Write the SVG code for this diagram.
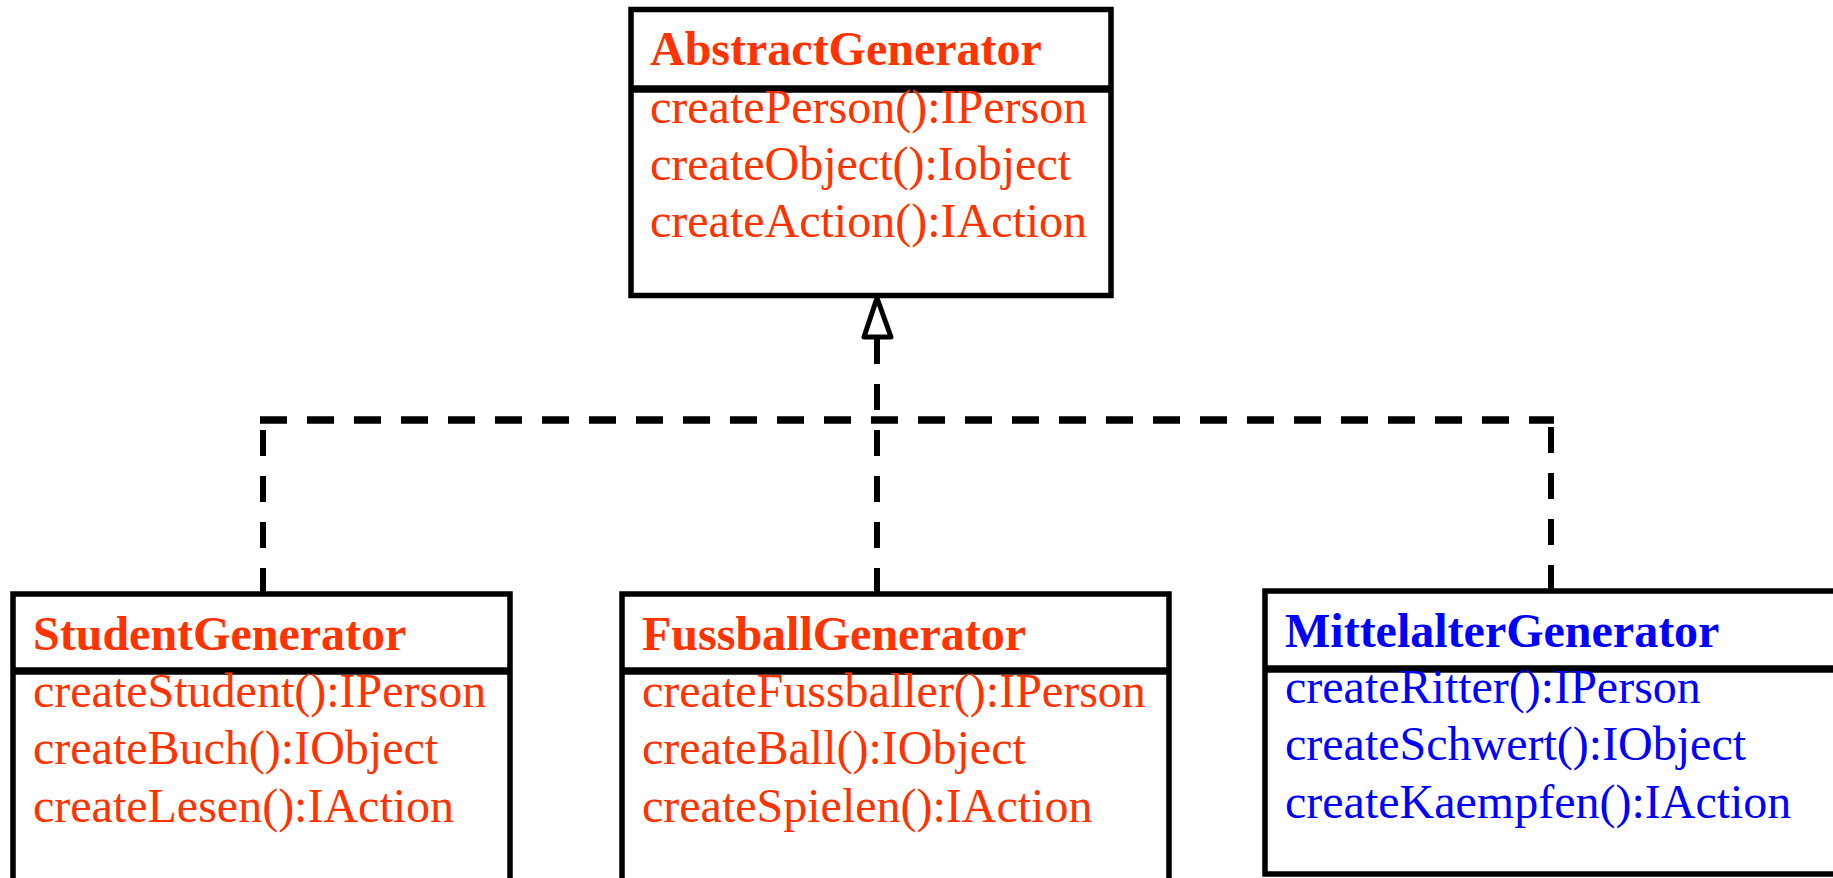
<svg xmlns="http://www.w3.org/2000/svg" width="1833" height="878" viewBox="0 0 1833 878">
<style>
.box{fill:#fff;stroke:#000;stroke-width:5.5}
.sep{stroke:#000;stroke-width:7.5}
.t{font-family:"Liberation Serif","Times New Roman",serif;font-size:48px}
.h{font-weight:bold}
.red{fill:#FF3300}
.blue{fill:#0000FF}
.dash{fill:none;stroke:#000;stroke-width:6;stroke-dasharray:26 20}
.dashh{fill:none;stroke:#000;stroke-width:7.5;stroke-dasharray:27 20}
.head{fill:#fff;stroke:#000;stroke-width:5;stroke-linejoin:round}
</style>
<rect width="1833" height="878" fill="#fff"/>
<g id="connectors">
<line class="dash" x1="877" y1="594" x2="877" y2="339"/>
<line class="dash" x1="263" y1="594" x2="263" y2="420"/>
<line class="dash" x1="1551" y1="591" x2="1551" y2="420"/>
<line class="dashh" x1="260" y1="420" x2="1554" y2="420"/>
<line x1="877" y1="337" x2="877" y2="356" stroke="#000" stroke-width="6"/>
<polygon class="head" points="877,298 864,337 891,337"/>
</g>
<g id="AbstractGenerator">
<rect class="box" x="631" y="9.5" width="480" height="286"/>
<line class="sep" x1="631" y1="89" x2="1111" y2="89"/>
<text class="t h red" x="650" y="65">AbstractGenerator</text>
<text class="t red" x="650" y="123">createPerson():IPerson</text>
<text class="t red" x="650" y="180">createObject():Iobject</text>
<text class="t red" x="650" y="237">createAction():IAction</text>
</g>
<g id="StudentGenerator">
<rect class="box" x="13" y="594" width="497" height="320"/>
<line class="sep" x1="13" y1="671" x2="510" y2="671"/>
<text class="t h red" x="33" y="650">StudentGenerator</text>
<text class="t red" x="33" y="707">createStudent():IPerson</text>
<text class="t red" x="33" y="764">createBuch():IObject</text>
<text class="t red" x="33" y="822">createLesen():IAction</text>
</g>
<g id="FussballGenerator">
<rect class="box" x="622" y="594" width="547" height="320"/>
<line class="sep" x1="622" y1="671" x2="1169" y2="671"/>
<text class="t h red" x="642" y="650">FussballGenerator</text>
<text class="t red" x="642" y="707">createFussballer():IPerson</text>
<text class="t red" x="642" y="764">createBall():IObject</text>
<text class="t red" x="642" y="822">createSpielen():IAction</text>
</g>
<g id="MittelalterGenerator">
<rect class="box" x="1265" y="591" width="600" height="283"/>
<line class="sep" x1="1265" y1="669" x2="1865" y2="669"/>
<text class="t h blue" x="1285" y="647">MittelalterGenerator</text>
<text class="t blue" x="1285" y="703">createRitter():IPerson</text>
<text class="t blue" x="1285" y="760">createSchwert():IObject</text>
<text class="t blue" x="1285" y="818">createKaempfen():IAction</text>
</g>
</svg>
